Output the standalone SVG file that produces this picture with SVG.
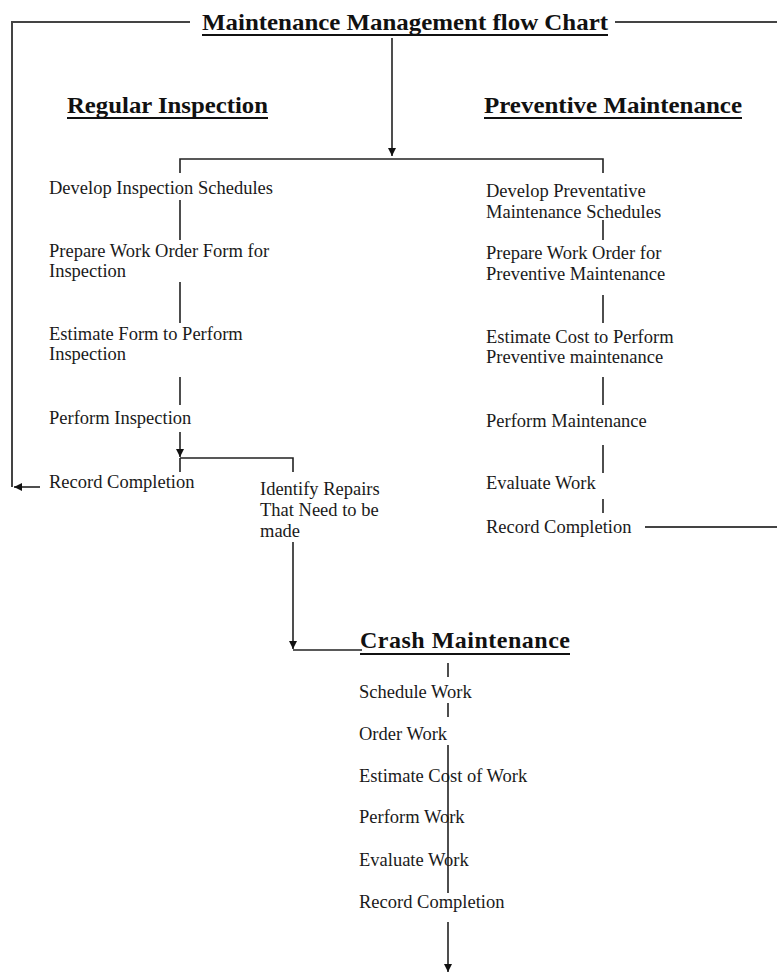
<svg xmlns="http://www.w3.org/2000/svg" width="777" height="974" viewBox="0 0 777 974">
<defs>
<marker id="arr" viewBox="0 0 10 10" refX="10" refY="5" markerWidth="8" markerHeight="8" markerUnits="userSpaceOnUse" orient="auto">
<path d="M0,0 L10,5 L0,10 z" fill="#111"/>
</marker>
<style>
.t{font-family:"Liberation Serif","Times New Roman",serif;font-size:18.5px;fill:#1a1a1a}
.h{font-family:"Liberation Serif","Times New Roman",serif;font-size:24px;font-weight:bold;fill:#111}
.u{stroke:#111;stroke-width:2.2}
.c{fill:none;stroke:#222;stroke-width:1.6}
.g{fill:none;stroke:#444;stroke-width:2}
</style>
</defs>
<rect width="777" height="974" fill="#fff"/>
<g id="connectors">
<path class="g" d="M190,22 H12 V487"/>
<path class="c" d="M40,487 H14" marker-end="url(#arr)"/>
<path class="g" d="M615,22 H777"/>
<path class="c" d="M392,38 V156" marker-end="url(#arr)"/>
<path class="c" d="M180,173 V159 H603 V173"/>
<path class="c" d="M180,200 V240 M180,282 V323 M180,377 V405"/>
<path class="c" d="M180,432 V457" marker-end="url(#arr)"/>
<path class="c" d="M180,458 V472 M180,458 H293 V472"/>
<path class="c" d="M293,542 V649" marker-end="url(#arr)"/>
<path class="c" d="M293,650 H362"/>
<path class="c" d="M603,220 V240 M603,295 V323 M603,377 V405 M603,445 V473 M603,499 V513"/>
<path class="g" d="M645,527 H777"/>
<path class="c" d="M448,663 V677 M448,703 V717 M448,745 V893"/>
<path class="c" d="M448,922 V972" marker-end="url(#arr)"/>
</g>
<g id="title">
<text class="h" x="202" y="30" textLength="406" lengthAdjust="spacingAndGlyphs">Maintenance Management flow Chart</text>
<line class="u" x1="202" y1="35" x2="608" y2="35"/>
</g>
<g id="regular-inspection">
<text class="h" x="67" y="113" textLength="201" lengthAdjust="spacingAndGlyphs">Regular Inspection</text>
<line class="u" x1="67" y1="118" x2="268" y2="118"/>
</g>
<g id="preventive-maintenance">
<text class="h" x="484" y="113" textLength="258" lengthAdjust="spacingAndGlyphs">Preventive Maintenance</text>
<line class="u" x1="484" y1="118" x2="742" y2="118"/>
</g>
<g id="ri-develop"><text class="t" x="49" y="194">Develop Inspection Schedules</text></g>
<g id="ri-prepare"><text class="t" x="49" y="257">Prepare Work Order Form for</text><text class="t" x="49" y="277">Inspection</text></g>
<g id="ri-estimate"><text class="t" x="49" y="340">Estimate Form to Perform</text><text class="t" x="49" y="360">Inspection</text></g>
<g id="ri-perform"><text class="t" x="49" y="424">Perform Inspection</text></g>
<g id="ri-record"><text class="t" x="49" y="488">Record Completion</text></g>
<g id="identify-repairs"><text class="t" x="260" y="495">Identify Repairs</text><text class="t" x="260" y="516">That Need to be</text><text class="t" x="260" y="537">made</text></g>
<g id="pm-develop"><text class="t" x="486" y="197">Develop Preventative</text><text class="t" x="486" y="218">Maintenance Schedules</text></g>
<g id="pm-prepare"><text class="t" x="486" y="259">Prepare Work Order for</text><text class="t" x="486" y="280">Preventive Maintenance</text></g>
<g id="pm-estimate"><text class="t" x="486" y="343">Estimate Cost to Perform</text><text class="t" x="486" y="363">Preventive maintenance</text></g>
<g id="pm-perform"><text class="t" x="486" y="427">Perform Maintenance</text></g>
<g id="pm-evaluate"><text class="t" x="486" y="489">Evaluate Work</text></g>
<g id="pm-record"><text class="t" x="486" y="533">Record Completion</text></g>
<g id="crash-maintenance">
<text class="h" x="360" y="648" textLength="210" lengthAdjust="spacing">Crash Maintenance</text>
<line class="u" x1="360" y1="654" x2="570" y2="654"/>
</g>
<g id="cm-schedule"><text class="t" x="359" y="698">Schedule Work</text></g>
<g id="cm-order"><text class="t" x="359" y="740">Order Work</text></g>
<g id="cm-estimate"><text class="t" x="359" y="782">Estimate Cost of Work</text></g>
<g id="cm-perform"><text class="t" x="359" y="823">Perform Work</text></g>
<g id="cm-evaluate"><text class="t" x="359" y="866">Evaluate Work</text></g>
<g id="cm-record"><text class="t" x="359" y="908">Record Completion</text></g>
</svg>
